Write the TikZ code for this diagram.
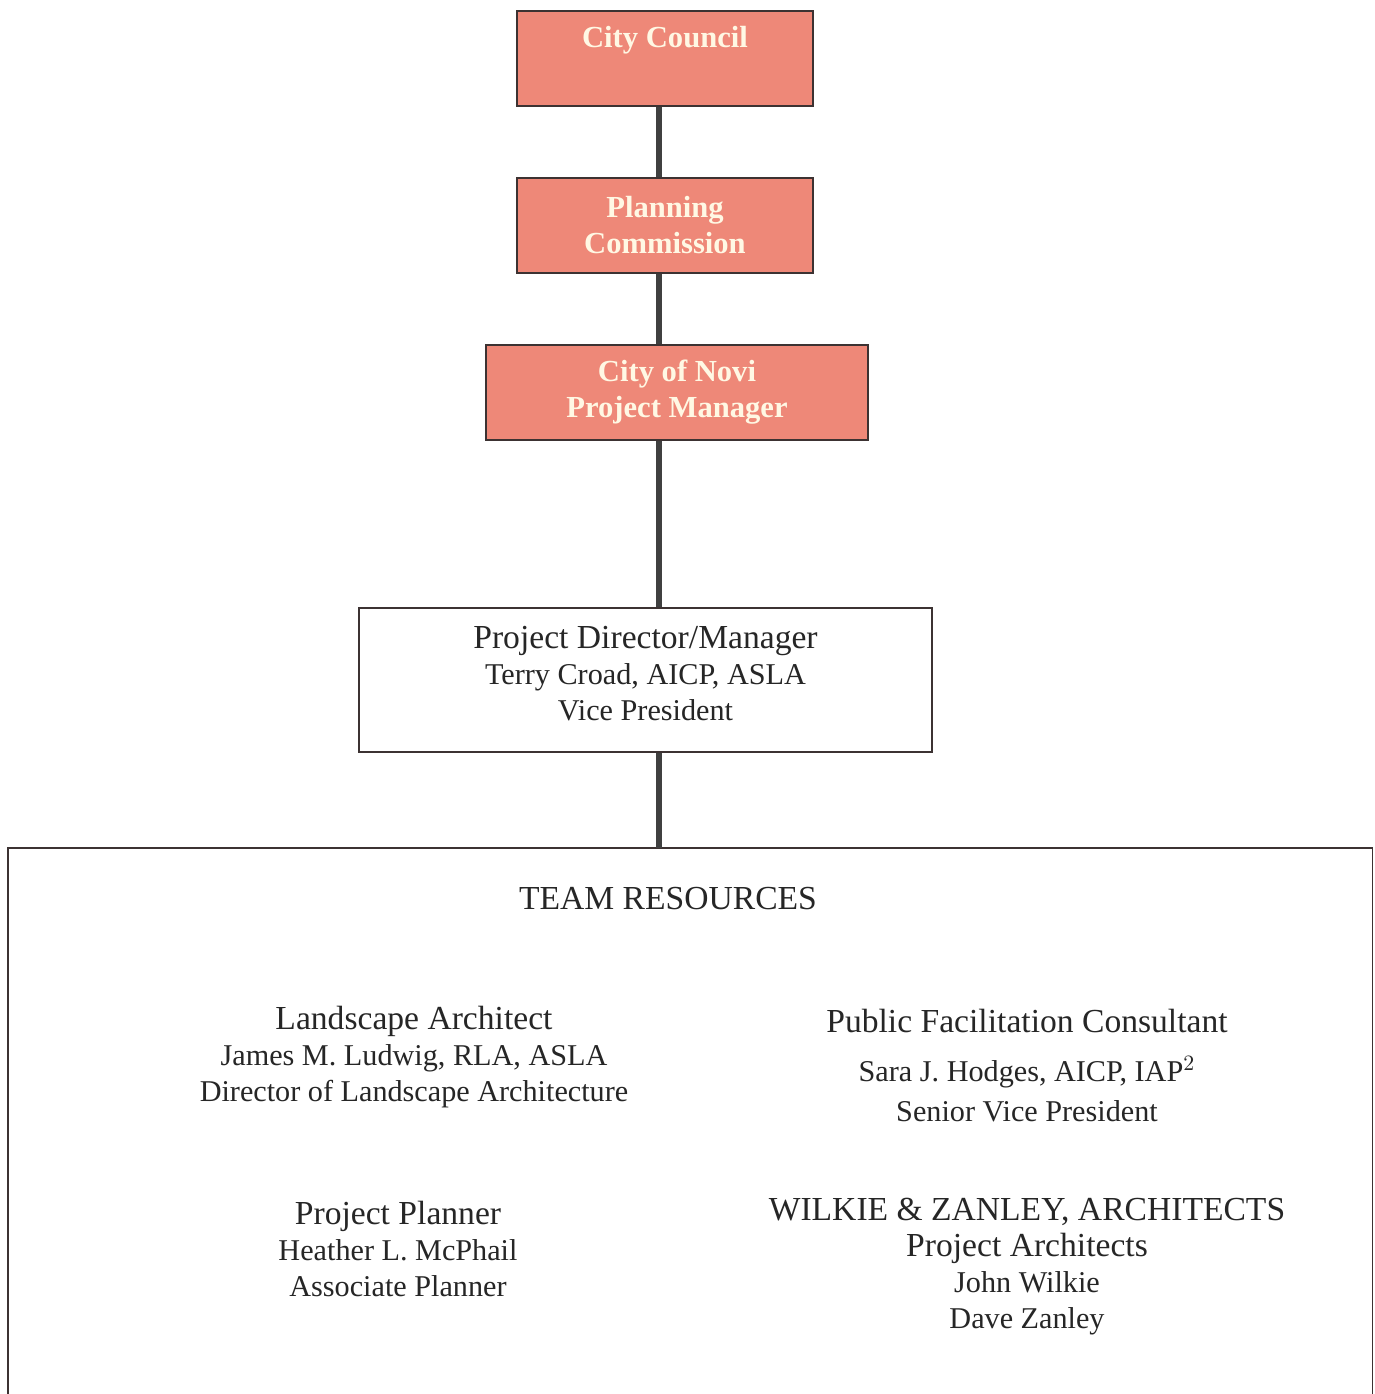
\documentclass[tikz,border=0pt]{standalone}
\usepackage{fontspec}
\setmainfont{Liberation Serif}
\definecolor{boxpink}{RGB}{238,136,120}
\definecolor{boxedge}{RGB}{60,50,50}
\definecolor{txtcream}{RGB}{255,248,228}
\newcommand{\hdfont}{\fontsize{16.8}{18}\selectfont}
\begin{document}
\begin{tikzpicture}[x=0.5pt,y=-0.5pt,
  pinkbox/.style={draw=boxedge,line width=1pt,fill=boxpink,minimum height=47.5pt,inner sep=0pt},
  pinktext/.style={text=txtcream,font=\fontsize{15.3}{18}\selectfont\bfseries,align=center},
  whitebox/.style={draw=boxedge,line width=0.9pt,fill=white,inner sep=0pt},
  bodytext/.style={font=\fontsize{15.1}{18}\selectfont,align=center,text=black!85},
  spineline/.style={draw=black!75,line width=2.6pt}]
\useasboundingbox (0,0) rectangle (1375,1394);
\fill[white] (0,0) rectangle (1375,1394);
\coordinate (spine) at (659,0);
% pink boxes
\node[pinkbox,minimum width=148pt] (cc) at (665,58.5) {};
\node[pinktext] (cct) at (665,40) {City Council};
\node[pinkbox,minimum width=148pt] (pc) at (665,225.5) {};
\node[pinktext] (pct) at (665,225) {Planning\\Commission};
\node[pinkbox,minimum width=191pt] (pm) at (677,392.5) {};
\node[pinktext] (pmt) at (677,392) {City of Novi\\Project Manager};
% director
\node[whitebox,minimum width=286.5pt,minimum height=72pt] (pd) at (645.5,680) {};
\node[bodytext] (pdt) at (645.5,674) {{\hdfont Project Director/Manager}\\Terry Croad, AICP, ASLA\\Vice President};
% team box
\node[minimum width=682pt,minimum height=276pt,inner sep=0pt] (team) at (690,1124) {};
\draw[boxedge,line width=0.9pt] (team.south west) -- (team.north west) -- (team.north east) -- (team.south east);
% connectors
\draw[spineline] (cc.south -| spine) -- (pc.north -| spine);
\draw[spineline] (pc.south -| spine) -- (pm.north -| spine);
\draw[spineline] (pm.south -| spine) -- (pd.north -| spine);
\draw[spineline] (pd.south -| spine) -- (team.north -| spine);
% team content
\node[bodytext,font=\hdfont] (tr) at (668,899) {TEAM RESOURCES};
\node[bodytext] (la) at (414,1057) {{\hdfont Landscape Architect}\\James M. Ludwig, RLA, ASLA\\Director of Landscape Architecture};
\node[bodytext] (pfc) at (1027,1021) {\hdfont Public Facilitation Consultant};
\node[bodytext] (pfc2) at (1027,1089) {Sara J. Hodges, AICP, IAP$^{2}$\\[2pt]Senior Vice President};
\node[bodytext] (pp) at (398,1249) {{\hdfont Project Planner}\\Heather L. McPhail\\Associate Planner};
\node[bodytext] (wz) at (1027,1267) {{\hdfont WILKIE \& ZANLEY, ARCHITECTS}\\{\hdfont Project Architects}\\John Wilkie\\Dave Zanley};
\end{tikzpicture}
\end{document}
